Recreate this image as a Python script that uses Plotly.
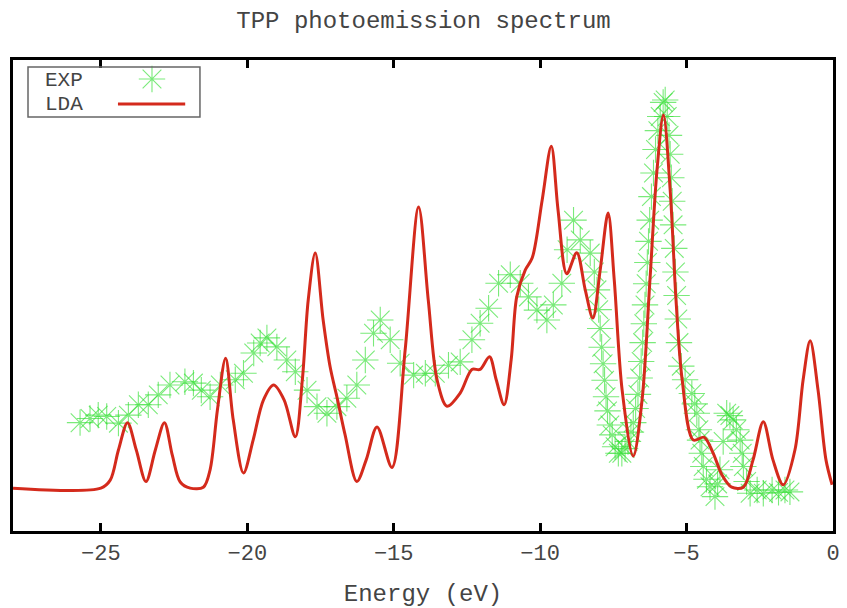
import plotly.graph_objects as go

# ---------------- data ----------------
lda_energy = [-28.0, -25.0, -24.68, -24.40, -24.09, -23.79, -23.46, -23.14, -22.83, -22.56,
              -22.29, -21.95, -21.50, -21.27, -21.02, -20.74, -20.48, -20.13, -19.80, -19.45,
              -19.10, -18.74, -18.36, -18.12, -17.92, -17.68, -17.41, -17.17, -16.93, -16.66,
              -16.26, -15.94, -15.57, -15.06, -14.61, -14.15, -13.82, -13.52, -13.18, -12.73,
              -12.33, -12.05, -11.73, -11.50, -11.23, -10.99, -10.80, -10.51, -10.27, -9.93,
              -9.62, -9.39, -9.09, -8.75, -8.46, -8.20, -7.95, -7.68, -7.47, -7.20,
              -6.82, -6.52, -6.25, -6.01, -5.79, -5.56, -5.36, -5.15, -4.77, -4.40,
              -4.09, -3.79, -3.46, -3.06, -2.73, -2.38, -2.05, -1.70, -1.30, -1.02,
              -0.78, -0.51, -0.24, -0.03]
lda_intensity = [9.1, 9.1, 10.8, 17.2, 23.0, 17.2, 10.5, 17.2, 23.0, 16.1,
                 10.4, 9.1, 9.3, 13.0, 25.7, 36.7, 23.6, 12.3, 19.3, 27.8,
                 31.0, 27.8, 20.0, 32.1, 49.0, 59.0, 44.8, 34.8, 28.2, 20.4,
                 10.5, 15.1, 22.1, 13.5, 38.4, 68.8, 49.0, 32.1, 26.5, 29.3,
                 34.3, 34.3, 37.0, 32.1, 26.8, 36.3, 49.7, 55.4, 58.0, 70.3,
                 81.7, 68.2, 54.6, 59.1, 51.2, 45.2, 55.4, 67.5, 53.3, 29.9,
                 15.9, 27.8, 53.3, 76.6, 88.3, 72.4, 49.0, 32.1, 19.3, 19.9,
                 16.5, 11.9, 9.3, 9.3, 15.1, 23.2, 15.1, 9.8, 17.2, 32.1,
                 40.4, 29.9, 15.1, 9.8]

exp_energy = [-25.71, -25.37, -25.09, -24.80, -24.40, -24.06, -23.72, -23.38, -23.04, -22.64,
              -22.13, -21.84, -21.57, -21.27, -20.92, -20.41, -20.13, -19.78, -19.56, -19.33,
              -18.99, -18.65, -18.36, -17.96, -17.62, -17.28, -16.94, -16.60, -16.26, -15.97,
              -15.69, -15.46, -15.12, -14.78, -14.32, -13.92, -13.58, -13.13, -12.73, -12.33,
              -12.05, -11.76, -11.42, -11.02, -10.68, -10.40, -10.11, -9.77, -9.55, -9.26,
              -9.08, -8.86, -8.63, -8.29, -8.15, -8.06, -8.00, -7.95, -7.90, -7.85,
              -7.80, -7.75, -7.70, -7.62, -7.54, -7.44, -7.33, -7.21, -7.10, -7.00,
              -6.90, -6.82, -6.74, -6.66, -6.60, -6.55, -6.50, -6.46, -6.42, -6.38,
              -6.34, -6.30, -6.26, -6.20, -6.13, -6.06, -5.98, -5.90, -5.80, -5.73,
              -5.66, -5.60, -5.56, -5.52, -5.49, -5.46, -5.42, -5.38, -5.34, -5.30,
              -5.26, -5.18, -5.05, -4.82, -4.72, -4.65, -4.58, -4.54, -4.48, -4.43,
              -4.32, -4.20, -4.03, -3.94, -3.86, -3.75, -3.63, -3.52, -3.41, -3.30,
              -3.17, -3.10, -3.06, -2.95, -2.83, -2.59, -2.38, -2.08, -1.86, -1.64,
              -1.47]
exp_intensity = [23.0, 23.9, 24.6, 24.3, 22.9, 24.6, 26.8, 26.8, 28.9, 31.0,
                 31.7, 31.4, 29.9, 28.5, 31.0, 32.1, 33.5, 37.8, 39.9, 41.0,
                 39.1, 36.3, 33.8, 29.9, 26.4, 25.0, 26.4, 28.2, 31.0, 36.3,
                 42.0, 44.8, 40.6, 35.6, 33.1, 33.5, 33.5, 35.2, 35.9, 40.6,
                 44.1, 47.3, 52.6, 54.4, 52.6, 49.7, 46.9, 44.8, 48.0, 52.6,
                 59.7, 66.0, 61.8, 59.0, 55.0, 51.2, 47.0, 43.0, 39.0, 35.5,
                 32.0, 28.5, 25.5, 22.5, 20.4, 17.9, 16.5, 16.5, 17.5, 19.0,
                 21.0, 23.0, 26.0, 29.0, 32.5, 36.0, 40.0, 44.0, 48.0, 52.5,
                 57.0, 61.5, 66.0, 71.0, 76.0, 81.0, 85.0, 88.0, 91.0, 91.5,
                 88.0, 84.0, 80.0, 75.0, 70.0, 65.0, 60.0, 55.0, 50.0, 45.0,
                 40.0, 35.0, 32.1, 29.2, 27.0, 25.0, 21.5, 19.3, 16.5, 13.7,
                 11.0, 9.4, 7.3, 10.0, 13.0, 19.0, 25.0, 24.5, 23.6, 21.5,
                 19.3, 16.5, 13.7, 10.5, 8.0, 8.7, 8.0, 8.7, 8.2, 8.7,
                 8.3]

x_ticks = [-25, -20, -15, -10, -5, 0]
x_range = [-28, 0]
y_range = [0, 100]

title_text = "TPP photoemission spectrum"
x_title = "Energy (eV)"
legend_labels = ["EXP", "LDA"]

# ---------------- style ----------------
FONT = "Liberation Mono, Courier New, monospace"
TXT = "#444444"
GREEN = "rgba(50, 222, 50, 0.65)"
RED = "#d42a1c"

fig = go.Figure()

fig.add_trace(go.Scatter(
    x=exp_energy, y=exp_intensity, mode="markers", name="EXP",
    marker=dict(symbol="asterisk-open", size=22, color=GREEN,
                line=dict(color=GREEN, width=1.1)),
    showlegend=False,
))
fig.add_trace(go.Scatter(
    x=lda_energy, y=lda_intensity, mode="lines", name="LDA",
    line=dict(color=RED, width=3, shape="spline", smoothing=0.9),
    showlegend=False,
))

# legend key sample for EXP (drawn on an invisible overlay axis)
fig.add_trace(go.Scatter(
    x=[0.1695], y=[0.9597], mode="markers", xaxis="x2", yaxis="y2",
    marker=dict(symbol="asterisk-open", size=22, color=GREEN,
                line=dict(color=GREEN, width=1.1)),
    showlegend=False, hoverinfo="skip",
))

fig.update_layout(
    width=847, height=608,
    margin=dict(l=13, r=14, t=60, b=77, autoexpand=False),
    paper_bgcolor="white", plot_bgcolor="white",
    showlegend=False,
    title=dict(text=title_text, x=0.5, xanchor="center", y=0.967, yanchor="middle",
               font=dict(family=FONT, size=24, color=TXT)),
    xaxis=dict(
        range=x_range, tickvals=x_ticks,
        ticktext=[f"{v:d}".replace("-", "\u2212") for v in x_ticks],
        ticks="inside", ticklen=8, tickwidth=2.5, tickcolor="black",
        showline=True, linewidth=3, linecolor="black", mirror="ticks",
        showgrid=False, zeroline=False, automargin=False,
        tickfont=dict(family=FONT, size=22, color=TXT),
        title=dict(text=x_title, font=dict(family=FONT, size=24, color=TXT), standoff=22),
    ),
    yaxis=dict(
        range=y_range, showticklabels=False, ticks="",
        showline=True, linewidth=3, linecolor="black", mirror=True,
        showgrid=False, zeroline=False, automargin=False,
    ),
    xaxis2=dict(range=[0, 1], overlaying="x", visible=False),
    yaxis2=dict(range=[0, 1], overlaying="y", visible=False),
)

# manual gnuplot-style legend
fig.add_shape(type="rect", xref="paper", yref="paper",
              x0=0.0183, x1=0.228, y0=0.879, y1=0.985,
              line=dict(color="#666666", width=1.5), fillcolor="rgba(0,0,0,0)")
fig.add_shape(type="line", xref="paper", yref="paper",
              x0=0.128, x1=0.21, y0=0.9066, y1=0.9066,
              line=dict(color=RED, width=3))
for lab, yy in zip(legend_labels, [0.956, 0.905]):
    fig.add_annotation(text=lab, xref="paper", yref="paper", x=0.037, y=yy,
                       xanchor="left", yanchor="middle", showarrow=False,
                       font=dict(family=FONT, size=21, color=TXT))

fig.write_html("out.html")
